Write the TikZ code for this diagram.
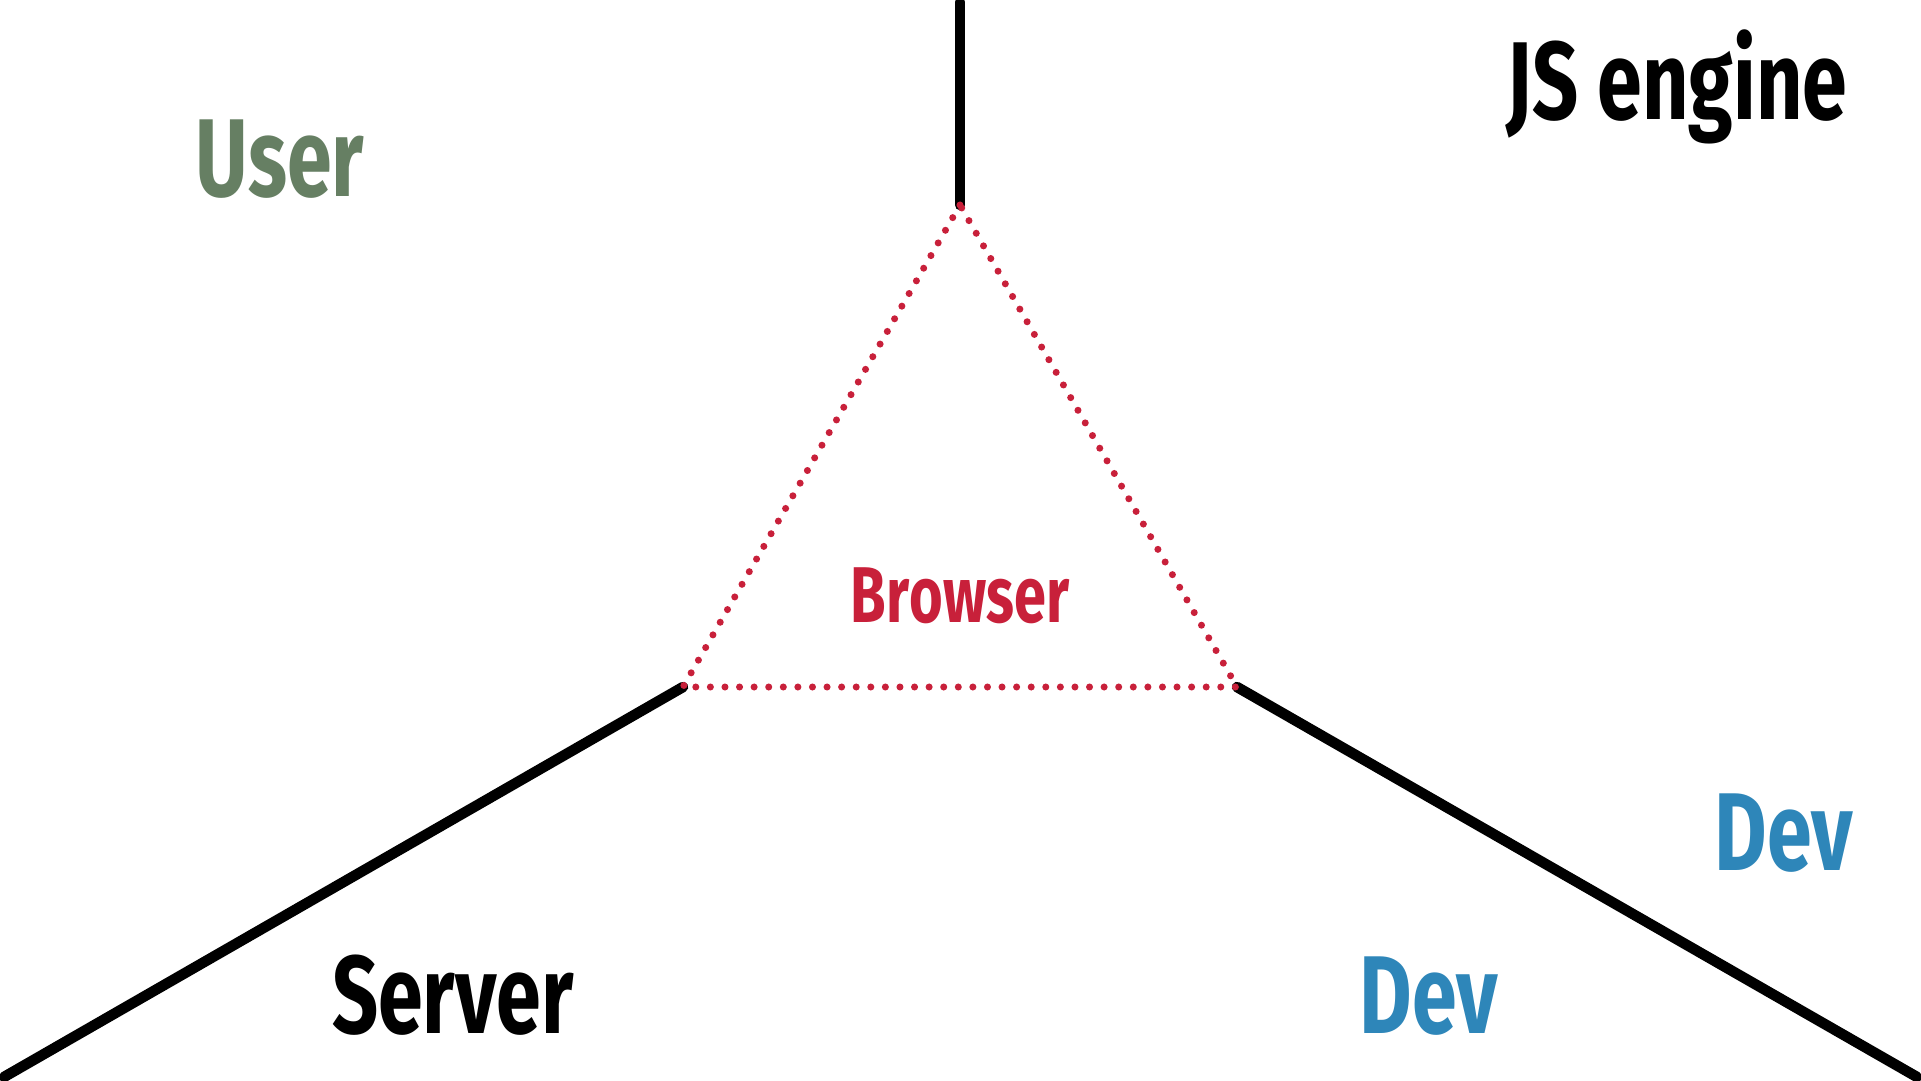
\documentclass[tikz,border=0pt]{standalone}
\usepackage{fontspec}
\setmainfont{Fira Sans}[UprightFont=* Bold, FakeStretch=0.73, Kerning=Off]
\usepackage{tikz}
\usetikzlibrary{positioning}

\definecolor{usergreen}{HTML}{667F63}
\definecolor{browserred}{HTML}{C8203A}
\definecolor{devblue}{HTML}{2E86B9}

\begin{document}
\begin{tikzpicture}[
  x=0.02cm, y=-0.02cm,
  edge/.style={line width=6pt, line cap=round, black},
  dotted edge/.style={line width=4pt, line cap=round, browserred,
                      dash pattern=on 0pt off 8.3pt},
  label/.style={inner sep=0pt, anchor=base, font=\fontsize{63}{70}\selectfont},
]
\useasboundingbox (0,0) rectangle (1921,1081);

% triangle corners and the three axes
\coordinate (apex)  at (960,205);
\coordinate (left)  at (683,687);
\coordinate (right) at (1237,687);
\coordinate (up)    at (960,2);
\coordinate (sw)    at (4,1077);
\coordinate (se)    at (1917,1077);

\draw[edge] (up) -- (apex);
\draw[edge] (left) -- (sw);
\draw[edge] (right) -- (se);

% browser triangle
\draw[dotted edge] (apex) -- (left) -- (right) -- cycle;

% labels
\node[label, text=usergreen] (user) at (280,197) {User};
\node[label] (js) at (1677,120) {JS engine};
\node[label, text=browserred, font=\fontsize{45}{50}\selectfont] (browser) at (960,622) {Browser};
\node[label] (server) at (453,1033) {Server};
\node[label, text=devblue] (devA) at (1429,1033) {Dev};
\node[label, text=devblue] (devB) at (1784,870) {Dev};

\end{tikzpicture}
\end{document}
